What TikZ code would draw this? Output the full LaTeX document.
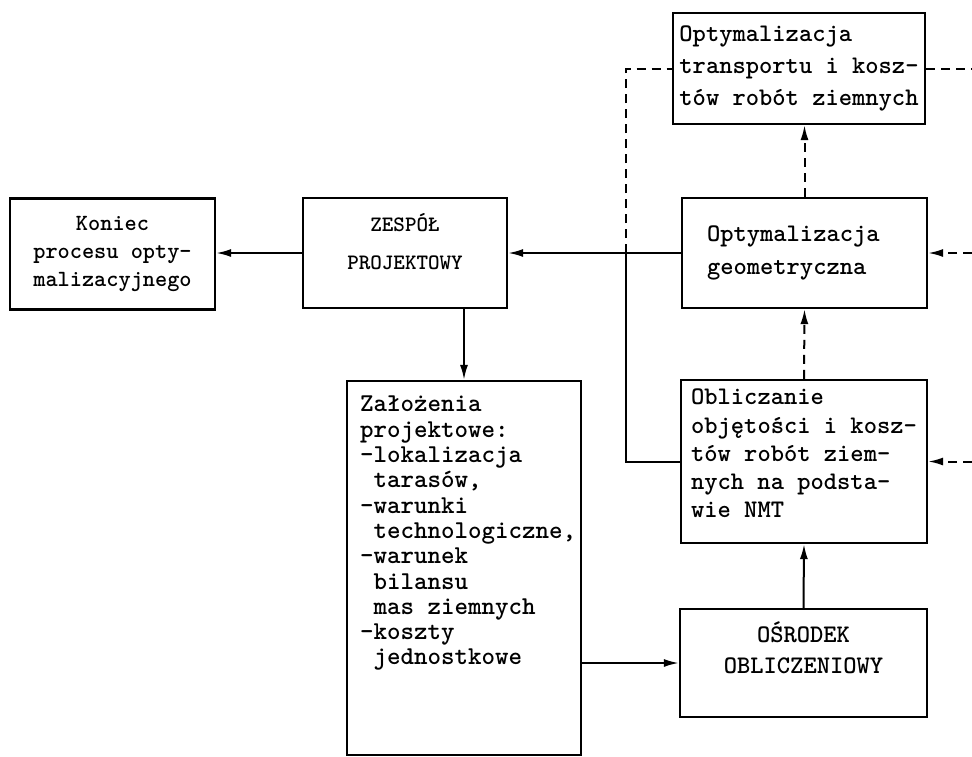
\documentclass[tikz,border=0pt]{standalone}
\usetikzlibrary{arrows.meta}
\newcommand\indt{\hphantom{x}}
\begin{document}
\begin{tikzpicture}[x=1pt,y=-1pt,
  box/.style={draw, line width=2.2pt, inner sep=0pt},
  ln/.style={line width=2pt},
  arr/.style={ln, -{Latex[length=15pt,width=8pt]}},
  dsh/.style={dash pattern=on 9pt off 6pt},
  ]
\useasboundingbox[fill=white] (0,0) rectangle (972,756);
% boxes
\node[box, align=center, minimum width=205pt, minimum height=111pt,
  font=\ttfamily\bfseries\fontsize{23.2}{28}\selectfont] (kon) at (112.5,254)
  {Koniec\\procesu opty-\\malizacyjnego};
\node[box, align=center, minimum width=204pt, minimum height=110pt, text depth=24pt,
  font=\ttfamily\bfseries\fontsize{22}{38}\selectfont] (zes) at (405,253)
  {ZESPÓŁ\\PROJEKTOWY};
\node[box, align=left, minimum width=252pt, minimum height=111pt,
  font=\ttfamily\bfseries\fontsize{25.3}{32}\selectfont] (top) at (799,68.5)
  {Optymalizacja\\transportu i kosz-\\tów robót ziemnych};
\node[box, align=left, minimum width=245pt, minimum height=110pt, text width=195pt,
  font=\ttfamily\bfseries\fontsize{25.3}{33}\selectfont] (geom) at (804.5,253)
  {Optymalizacja\\geometryczna};
\node[box, align=left, minimum width=246pt, minimum height=163pt, text depth=16pt,
  font=\ttfamily\bfseries\fontsize{25.3}{28.3}\selectfont] (obl) at (804,461.5)
  {Obliczanie\\objętości i kosz-\\tów robót ziem-\\nych na podsta-\\wie NMT};
\node[box, align=center, minimum width=247pt, minimum height=108pt, text depth=30pt,
  font=\ttfamily\bfseries\fontsize{25.3}{31}\selectfont] (osr) at (803.5,663)
  {OŚRODEK\\OBLICZENIOWY};
\node[box, minimum width=234pt, minimum height=374pt] (zal) at (464,568) {};
\node[anchor=north west, inner sep=0pt, align=left,
  font=\ttfamily\bfseries\fontsize{25.7}{25.3}\selectfont] (zaltext) at (360,396)
  {Założenia\\projektowe:\\-lokalizacja\\\indt tarasów,\\-warunki\\\indt technologiczne,\\-warunek\\\indt bilansu\\\indt mas ziemnych\\-koszty\\\indt jednostkowe};
% edge helpers
\coordinate (j) at (626,0);
\coordinate (redge) at (972,0);
% connectors
\draw[arr] (zes.west) -- (zes.west -| kon.east);
\draw[arr] (geom.west) -- (geom.west -| zes.east);
\draw[arr] (zal.north |- zes.south) -- (zal.north);
\draw[arr] (zal.east |- osr.west) -- (osr.west);
\draw[arr] (osr.north) -- (obl.south);
\draw[arr,dsh] (obl.north) -- (geom.south);
\draw[arr,dsh] (geom.north) -- (geom.north |- top.south);
\draw[ln] (obl.west) -- (obl.west -| j) -- (geom.west -| j);
\draw[ln,dsh] (geom.west -| j) -- (top.west -| j) -- (top.west);
\draw[ln,dsh] (top.east) -- (top.east -| redge);
\draw[arr,dsh] (geom.east -| redge) -- (geom.east);
\draw[arr,dsh] (obl.east -| redge) -- (obl.east);
\end{tikzpicture}
\end{document}
